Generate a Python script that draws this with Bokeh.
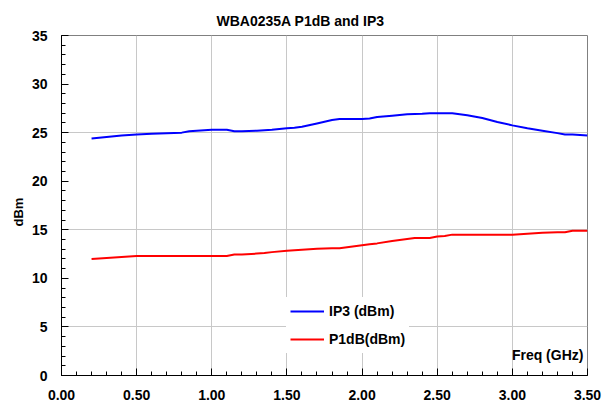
from bokeh.plotting import figure
from bokeh.models import (Range1d, SingleIntervalTicker, FixedTicker, NumeralTickFormatter,
                          Legend, LegendItem, Label, Title)
from bokeh.embed import file_html
from bokeh.resources import INLINE

# ---- data ----
freq_ip3 = [0.2, 0.3, 0.4, 0.5, 0.6, 0.7, 0.8, 0.85, 0.9, 1.0, 1.1, 1.15, 1.2, 1.3, 1.4,
            1.5, 1.55, 1.6, 1.7, 1.8, 1.85, 1.9, 2.0, 2.05, 2.1, 2.2, 2.3, 2.4, 2.45,
            2.6, 2.65, 2.7, 2.8, 2.9, 3.0, 3.1, 3.2, 3.3, 3.35, 3.4, 3.5]
ip3 = [24.4, 24.55, 24.7, 24.8, 24.88, 24.95, 25.0, 25.15, 25.2, 25.3, 25.3, 25.15, 25.15,
       25.2, 25.3, 25.45, 25.5, 25.6, 25.95, 26.3, 26.4, 26.4, 26.4, 26.45, 26.6, 26.75,
       26.9, 26.95, 27.0, 27.0, 26.9, 26.8, 26.5, 26.1, 25.75, 25.45, 25.2, 24.95, 24.8,
       24.8, 24.7]

freq_p1db = [0.2, 0.3, 0.4, 0.5, 0.6, 0.7, 0.8, 0.9, 1.0, 1.1, 1.15, 1.2, 1.3, 1.35, 1.4,
             1.5, 1.6, 1.7, 1.8, 1.85, 1.9, 2.0, 2.05, 2.1, 2.2, 2.3, 2.35, 2.45, 2.5,
             2.55, 2.6, 2.7, 2.8, 2.9, 3.0, 3.1, 3.2, 3.3, 3.35, 3.4, 3.5]
p1db = [12.0, 12.1, 12.2, 12.3, 12.3, 12.3, 12.3, 12.3, 12.3, 12.3, 12.45, 12.45, 12.55,
        12.6, 12.7, 12.85, 12.95, 13.05, 13.1, 13.1, 13.2, 13.4, 13.5, 13.6, 13.85, 14.05,
        14.15, 14.15, 14.3, 14.35, 14.5, 14.5, 14.5, 14.5, 14.5, 14.6, 14.7, 14.75, 14.75,
        14.9, 14.9]

title_text = "WBA0235A P1dB and IP3"
y_label = "dBm"
x_label = "Freq (GHz)"
series_names = ["IP3 (dBm)", "P1dB(dBm)"]
ygrid_ticks = [5, 15, 25]

FONT = "Liberation Sans"

p = figure(width=604, height=406, output_backend="svg", toolbar_location=None,
           x_range=Range1d(0, 3.5), y_range=Range1d(0, 35),
           min_border_left=61, min_border_right=17, min_border_top=35,
           min_border_bottom=31)

p.title.text = title_text
p.title.align = "left"
p.title.offset = 155
p.title.standoff = 13
p.title.text_font = FONT
p.title.text_font_size = "14px"
p.title.text_font_style = "bold"
p.title.text_color = "black"

p.outline_line_color = "#808080"
p.outline_line_width = 1

# axes
p.xaxis.ticker = SingleIntervalTicker(interval=0.5, num_minor_ticks=5)
p.yaxis.ticker = SingleIntervalTicker(interval=5, num_minor_ticks=5)
p.xaxis.formatter = NumeralTickFormatter(format="0.00")
for ax in (p.xaxis, p.yaxis):
    ax.axis_line_color = "black"
    ax.axis_line_width = 1
    ax.major_tick_line_color = "black"
    ax.minor_tick_line_color = "black"
    ax.major_tick_in = 7
    ax.major_tick_out = 0
    ax.minor_tick_in = 4
    ax.minor_tick_out = 0
    ax.major_label_text_font = FONT
    ax.major_label_text_font_size = "14px"
    ax.major_label_text_font_style = "bold"
    ax.major_label_text_color = "black"
p.xaxis.major_label_standoff = 14
p.yaxis.major_label_standoff = 14

# y-axis title as a side title (sits a little below the frame centre, like the original)
p.add_layout(Title(text=y_label, align="left", offset=149, standoff=6,
                   text_font=FONT, text_font_size="13px", text_font_style="bold",
                   text_color="black"), "left")

# grid
p.xgrid.grid_line_color = "#c8c8c8"
p.ygrid.grid_line_color = "#c8c8c8"
p.ygrid.ticker = FixedTicker(ticks=ygrid_ticks)

r1 = p.line(freq_ip3, ip3, line_color="#0000ff", line_width=2)
r2 = p.line(freq_p1db, p1db, line_color="#ff0000", line_width=2)

legend = Legend(items=[LegendItem(label=series_names[0], renderers=[r1]),
                       LegendItem(label=series_names[1], renderers=[r2])],
                location=(225, 22), margin=0, padding=4, spacing=8,
                glyph_width=34, glyph_height=20, label_height=20, label_standoff=5,
                border_line_alpha=0, background_fill_color="white",
                background_fill_alpha=1.0,
                label_text_font=FONT, label_text_font_size="14px",
                label_text_font_style="bold", label_text_color="black")
p.add_layout(legend, "center")

p.add_layout(Label(x=3.473, y=2.06, text=x_label, text_align="right",
                   text_baseline="middle", text_font=FONT, text_font_size="14px",
                   text_font_style="bold", text_color="black"))

open("out.html", "w").write(file_html(p, INLINE))
